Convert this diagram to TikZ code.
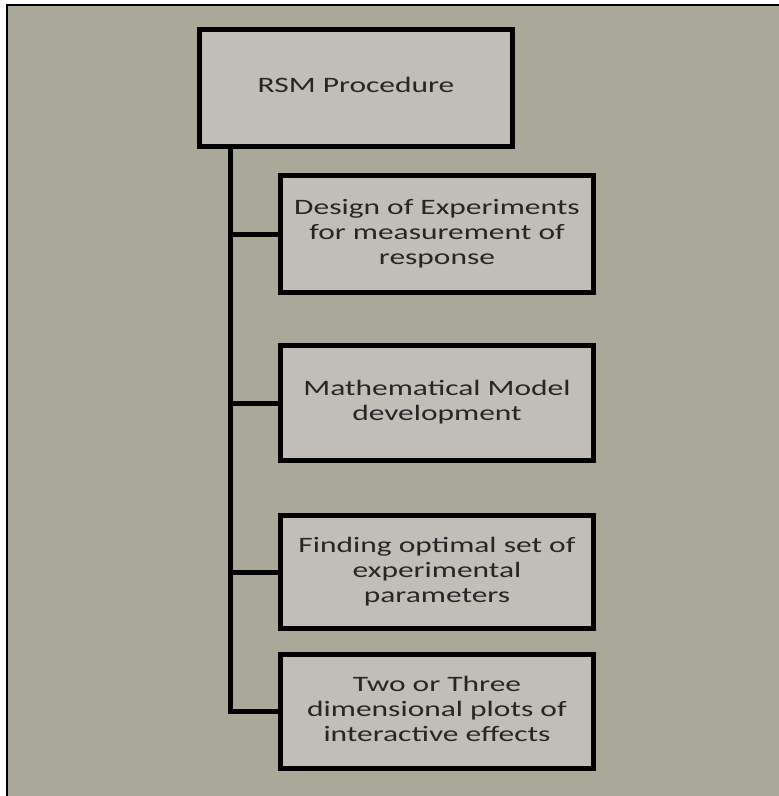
\documentclass[tikz,border=0pt]{standalone}
\usepackage{fontspec}
\usepackage{graphicx}
\setmainfont{Carlito}
\definecolor{bgcol}{RGB}{170,168,153}
\definecolor{boxcol}{RGB}{192,190,182}
\definecolor{txtcol}{RGB}{38,38,38}
\newcommand{\widetext}[1]{\scalebox{1.43}[1]{\begin{tabular}{@{}c@{}}#1\end{tabular}}}
\begin{document}
\begin{tikzpicture}[x=1pt,y=-1pt,
  stepbox/.style={draw=black,line width=5pt,fill=boxcol,rectangle,inner sep=0pt,
    minimum width=313pt,text=txtcol,font=\fontsize{22}{25}\selectfont},
  conn/.style={draw=black,line width=5pt},
  frame/.style={draw=black,line width=2.5pt}]
\useasboundingbox (0,0) rectangle (779,796);
\fill[bgcol] (6,4) rectangle (779,796);
\draw[frame] (7,796) -- (7,5) -- (779,5);
\node[stepbox,minimum height=117pt] (rsm) at (356,87.5) {\widetext{RSM Procedure}};
\node[stepbox,minimum height=117pt] (b1) at (437,234) {\widetext{Design of Experiments\\for measurement of\\response}};
\node[stepbox,minimum height=115pt] (b2) at (437,403) {\widetext{Mathematical Model\\development}};
\node[stepbox,minimum height=113pt] (b3) at (437,572) {\widetext{Finding optimal set of\\experimental\\parameters}};
\node[stepbox,minimum height=114pt] (b4) at (437,711.5) {\widetext{Two or Three\\dimensional plots of\\interactive effects}};
\coordinate (spinex) at (230.5,0);
\draw[conn] (rsm.south -| spinex) |- (b4.west);
\draw[conn] (b1.west -| spinex) -- (b1.west);
\draw[conn] (b2.west -| spinex) -- (b2.west);
\draw[conn] (b3.west -| spinex) -- (b3.west);
\end{tikzpicture}
\end{document}
